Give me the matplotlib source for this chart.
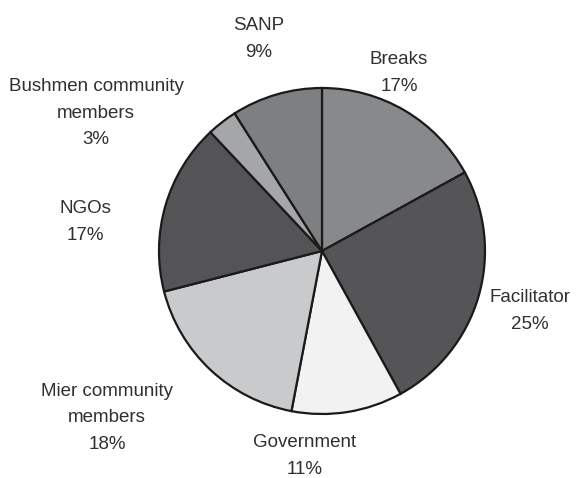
import matplotlib.pyplot as plt

# Share of session time by group
groups = ["Breaks", "Facilitator", "Government", "Mier community\nmembers",
          "NGOs", "Bushmen community\nmembers", "SANP"]
shares = [17, 25, 11, 18, 17, 3, 9]
colors = ["#88898b", "#555557", "#f1f2f1", "#c9cacc", "#545456", "#a5a6a8", "#7e7f81"]

# label anchor points in pixels, measured from the top left corner
label_xy = [(399, 73), (530, 311), (305, 456), (107, 418),
            (85, 222), (96, 113), (259, 39)]

W, H = 583, 478

fig = plt.figure(figsize=(W / 100, H / 100), dpi=100)
ax = fig.add_axes([0, 0, 1, 1])
ax.set_xlim(0, W)
ax.set_ylim(0, H)
ax.set_aspect("equal")
ax.axis("off")

ax.pie(shares, colors=colors, startangle=90, counterclock=False,
       center=(322, H - 251), radius=163,
       wedgeprops=dict(edgecolor="#1a1a1a", linewidth=1.6))
ax.set_xlim(0, W)
ax.set_ylim(0, H)

for name, pct, (x, y) in zip(groups, shares, label_xy):
    ax.text(x, H - y, "%s\n%d%%" % (name, pct), ha="center", va="center",
            fontsize=13.5, family="Liberation Sans", color="#303030",
            linespacing=1.75)

fig.savefig("out.png", dpi=100)
